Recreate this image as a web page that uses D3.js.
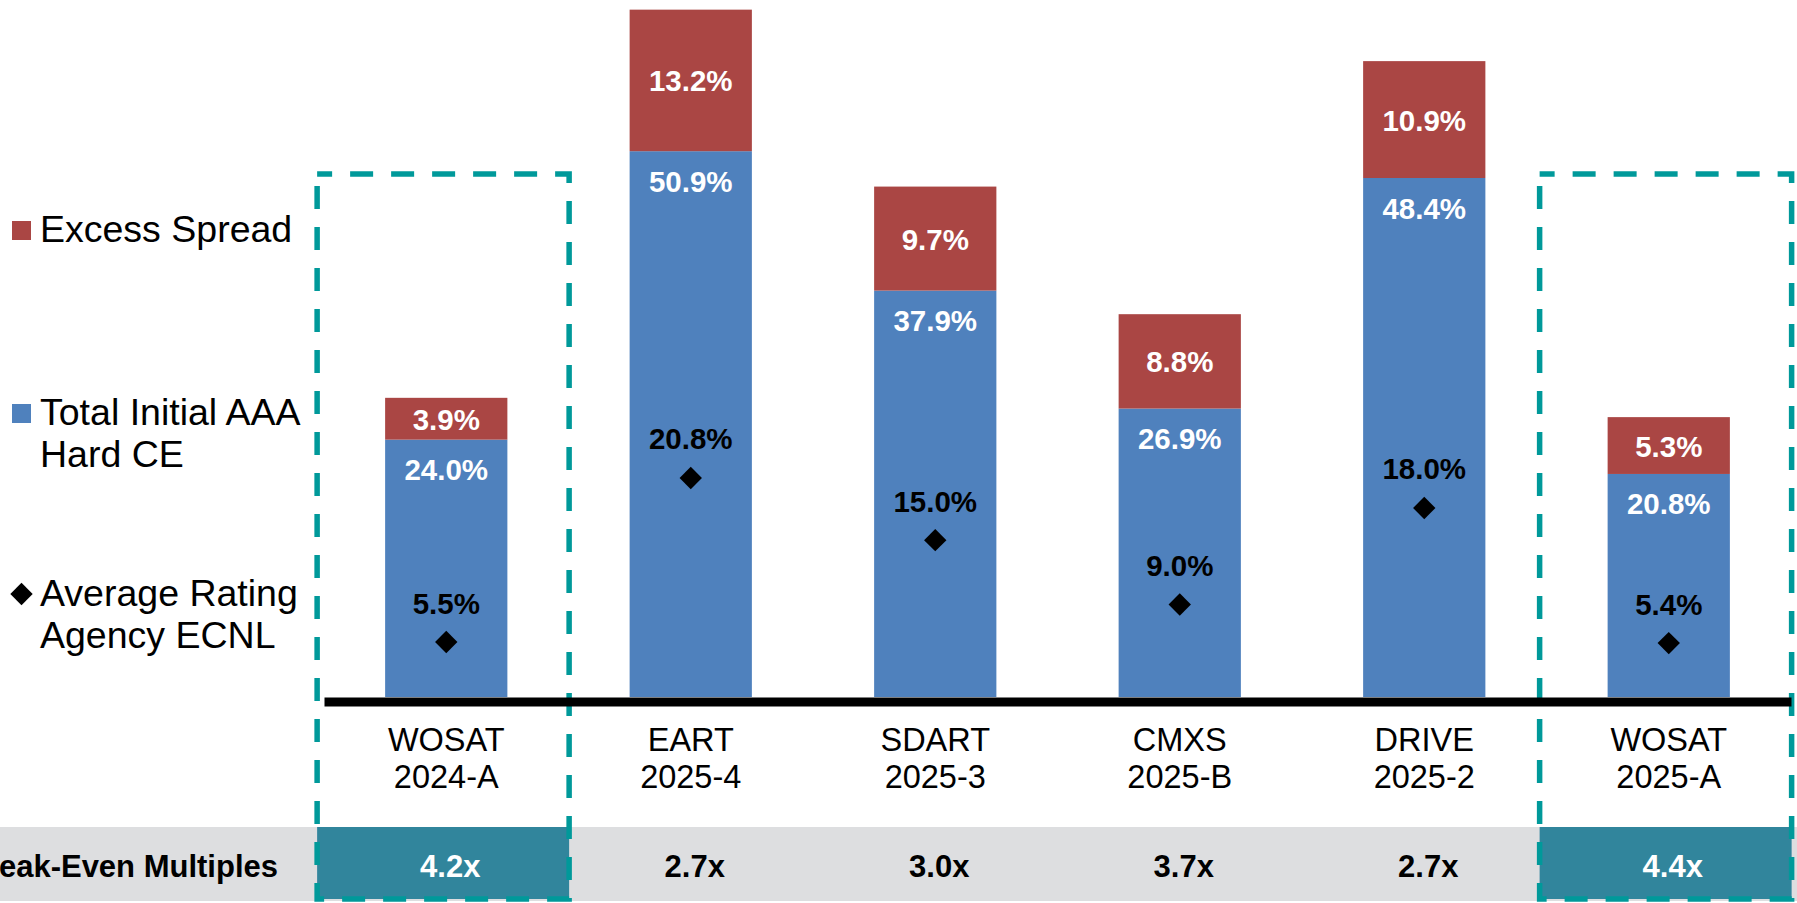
<!DOCTYPE html>
<html>
<head>
<meta charset="utf-8">
<script src="https://cdn.jsdelivr.net/npm/d3@7"></script>
<style>
  html, body { margin: 0; padding: 0; background: #fff; overflow: hidden; }
  svg { display: block; font-family: "Liberation Sans", Arial, sans-serif; }
</style>
</head>
<body>
<svg id="chart" width="1797" height="903"></svg>
<script>
// deals on the x axis (name + series, split on the space for two lines)
var deals = ["WOSAT 2024-A", "EART 2025-4", "SDART 2025-3", "CMXS 2025-B", "DRIVE 2025-2", "WOSAT 2025-A"];
var hardCE = [24.0, 50.9, 37.9, 26.9, 48.4, 20.8];
var excessSpread = [3.9, 13.2, 9.7, 8.8, 10.9, 5.3];
var ecnl = [5.5, 20.8, 15.0, 9.0, 18.0, 5.4];
var multiples = [4.2, 2.7, 3.0, 3.7, 2.7, 4.4];
var highlighted = ["WOSAT 2024-A", "WOSAT 2025-A"];

var legendItems = [
  {key: "excess", lines: ["Excess Spread"]},
  {key: "hardCE", lines: ["Total Initial AAA", "Hard CE"]},
  {key: "ecnl", lines: ["Average Rating", "Agency ECNL"]}
];

var colors = {hardCE: "#4F81BD", excess: "#AA4644", ecnl: "#000", teal: "#00999A", cell: "#31859C", band: "#DDDEE0"};

var width = 1797, height = 903;
var svg = d3.select("#chart");

var x = d3.scaleBand()
    .domain(deals)
    .range([324, 1791])
    .paddingInner(0.5)
    .paddingOuter(0.25);
var y = d3.scaleLinear()
    .domain([0, 65])
    .range([697, 0]);

var rows = deals.map((d, i) => ({deal: d, hardCE: hardCE[i], excess: excessSpread[i], ecnl: ecnl[i], mult: multiples[i]}));
var series = d3.stack().keys(["hardCE", "excess"])(rows);

var cx = d => x(d) + x.bandwidth() / 2;
var boxW = 252;
var boxX = d => x(d) - 68;
var pct = v => d3.format(".1f")(v) + "%";

// break-even band along the bottom
var bandTop = 827, bandBottom = 901;
svg.append("rect")
    .attr("x", 0).attr("y", bandTop)
    .attr("width", width).attr("height", bandBottom - bandTop)
    .attr("fill", colors.band);

svg.selectAll("rect.cell")
  .data(highlighted)
  .join("rect")
    .attr("class", "cell")
    .attr("x", boxX)
    .attr("y", bandTop)
    .attr("width", boxW)
    .attr("height", bandBottom - bandTop - 2)
    .attr("fill", colors.cell);

svg.append("text")
    .attr("x", 278).attr("y", 877)
    .attr("text-anchor", "end")
    .attr("font-size", 31).attr("font-weight", "bold")
    .text("Break-Even Multiples");

svg.selectAll("text.mult")
  .data(rows)
  .join("text")
    .attr("class", "mult")
    .attr("x", d => cx(d.deal) + 4)
    .attr("y", 877)
    .attr("text-anchor", "middle")
    .attr("font-size", 31).attr("font-weight", "bold")
    .attr("fill", d => highlighted.includes(d.deal) ? "#fff" : "#000")
    .text(d => d3.format(".1f")(d.mult) + "x");

// dashed boxes round the highlighted deals
svg.selectAll("rect.box")
  .data(highlighted)
  .join("rect")
    .attr("class", "box")
    .attr("x", boxX)
    .attr("y", 174)
    .attr("width", boxW)
    .attr("height", 899 - 174)
    .attr("fill", "none")
    .attr("stroke", colors.teal)
    .attr("stroke-width", 5.5)
    .attr("stroke-dasharray", "23 18")
    .attr("stroke-dashoffset", 8);

// stacked bars
svg.append("g")
  .selectAll("g")
  .data(series)
  .join("g")
    .attr("fill", s => colors[s.key])
  .selectAll("rect")
  .data(s => s)
  .join("rect")
    .attr("x", d => x(d.data.deal))
    .attr("y", d => y(d[1]))
    .attr("width", x.bandwidth())
    .attr("height", d => y(d[0]) - y(d[1]));

// axis line
var axis = svg.append("g")
    .attr("transform", "translate(0,701.5)")
    .call(d3.axisBottom(x).tickSize(0).tickSizeOuter(0).tickFormat(""));
axis.select(".domain").attr("stroke", "#000").attr("stroke-width", 9);

// category labels
var cat = svg.selectAll("text.cat")
  .data(deals)
  .join("text")
    .attr("class", "cat")
    .attr("text-anchor", "middle")
    .attr("font-size", 32.5);
cat.selectAll("tspan")
  .data(d => d.split(" ").map(t => ({t: t, d: d})))
  .join("tspan")
    .attr("x", d => cx(d.d))
    .attr("y", (d, i) => 751 + i * 36.5)
    .text(d => d.t);

// value labels
var lbl = svg.append("g")
    .attr("text-anchor", "middle")
    .attr("font-size", 29.5)
    .attr("font-weight", "bold");

lbl.selectAll("text.ex")
  .data(rows)
  .join("text")
    .attr("class", "ex")
    .attr("x", d => cx(d.deal))
    .attr("y", d => (y(d.hardCE + d.excess) + y(d.hardCE)) / 2 + 11)
    .attr("fill", "#fff")
    .text(d => pct(d.excess));

lbl.selectAll("text.ce")
  .data(rows)
  .join("text")
    .attr("class", "ce")
    .attr("x", d => cx(d.deal))
    .attr("y", d => y(d.hardCE) + 40.5)
    .attr("fill", "#fff")
    .text(d => pct(d.hardCE));

lbl.selectAll("text.ecnl")
  .data(rows)
  .join("text")
    .attr("class", "ecnl")
    .attr("x", d => cx(d.deal))
    .attr("y", d => y(d.ecnl) - 24.5)
    .attr("fill", "#000")
    .text(d => pct(d.ecnl));

var diamond = d3.symbol().type(d3.symbolSquare).size(250);
svg.selectAll("path.dia")
  .data(rows)
  .join("path")
    .attr("class", "dia")
    .attr("d", diamond)
    .attr("transform", d => "translate(" + cx(d.deal) + "," + (y(d.ecnl) + 4) + ") rotate(45)")
    .attr("fill", colors.ecnl);

// legend
var legendY = [242, 425, 606];
var leg = svg.selectAll("g.leg")
  .data(legendItems)
  .join("g")
    .attr("class", "leg")
    .attr("transform", (d, i) => "translate(0," + legendY[i] + ")");

leg.filter(d => d.key !== "ecnl")
  .append("rect")
    .attr("x", 12).attr("y", -21)
    .attr("width", 19).attr("height", 19)
    .attr("fill", d => colors[d.key]);
leg.filter(d => d.key === "ecnl")
  .append("path")
    .attr("d", diamond)
    .attr("transform", "translate(21.5,-12) rotate(45)")
    .attr("fill", colors.ecnl);

leg.append("text")
    .attr("font-size", 37.5)
  .selectAll("tspan")
  .data(d => d.lines)
  .join("tspan")
    .attr("x", 40)
    .attr("y", (d, i) => i * 42)
    .text(d => d);
</script>
</body>
</html>
